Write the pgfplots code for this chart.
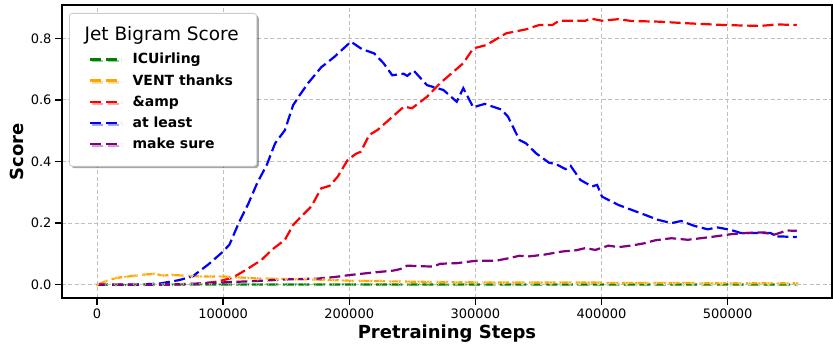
\documentclass[border=0pt]{standalone}
\usepackage{fontspec}
\setmainfont{DejaVu Sans}
\usepackage{pgfplots}
\pgfplotsset{compat=1.18}
\usetikzlibrary{shadows}
\definecolor{mgreen}{RGB}{0,128,0}
\definecolor{morange}{RGB}{255,165,0}
\definecolor{mred}{RGB}{255,0,0}
\definecolor{mblue}{RGB}{0,0,255}
\definecolor{mpurple}{RGB}{128,0,128}
\begin{document}
\begin{tikzpicture}
\begin{axis}[
  scale only axis, width=770bp, height=293bp,
  xmin=-27750, xmax=582750, ymin=-0.043, ymax=0.908,
  axis line style={line width=1.6bp, black},
  xtick={0,100000,200000,300000,400000,500000},
  xticklabels={0,100000,200000,300000,400000,500000},
  ytick={0,0.2,0.4,0.6,0.8},
  yticklabels={0.0,0.2,0.4,0.6,0.8},
  scaled x ticks=false,
  xtick pos=lower, ytick pos=left,
  tick align=outside,
  major tick length=7bp,
  every tick/.style={line width=1.4bp, black},
  ticklabel style={font=\fontsize{13bp}{15bp}\selectfont},
  xlabel={\bfseries Pretraining Steps},
  ylabel={\bfseries Score},
  label style={font=\fontsize{18bp}{20bp}\selectfont},
  grid=major,
  major grid style={dash pattern=on 4bp off 2.5bp, black!25, line width=0.8bp},
  legend cell align=left,
  legend style={at={(0.0091,0.9727)}, anchor=north west,
    draw=black!20, line width=0.8bp, rounded corners=3bp, fill=white,
    inner xsep=18bp, inner ysep=13.5bp, row sep=7.2bp, column sep=10bp,
    font=\fontsize{14bp}{16bp}\selectfont\bfseries,
    nodes={inner sep=0pt, text height=10bp, text depth=4bp, anchor=base west},
    drop shadow={shadow xshift=2bp, shadow yshift=-2bp, opacity=0.35, fill=black}},
  legend image code/.code={\draw[#1, line width=2.4bp, dash pattern=on 11bp off 4.5bp] (3bp,4.5bp) -- (34bp,4.5bp);},
  every axis plot/.append style={line width=2.2bp, dash pattern=on 11bp off 4.5bp},
]
\coordinate (O) at (rel axis cs:0,0);
\addlegendimage{empty legend}
\addlegendentry[text height=14bp, text depth=5.8bp]{\hspace{-48bp}\fontsize{18.5bp}{20bp}\selectfont\mdseries Jet Bigram Score}

\addplot[mgreen, mark=triangle*, mark size=2bp, mark options={solid, rotate=180, fill=mgreen, draw=white, line width=0.3bp}] table {
0 0
7500 0.000
15000 0.000
22500 0.000
30000 0.000
37500 0.001
45000 0.001
52500 0.001
60000 0.001
67500 0.001
75000 0.001
82500 0.001
90000 0.001
97500 0.001
105000 0.001
112500 0.001
120000 0.001
127500 0.001
135000 0.001
142500 0.001
150000 0.001
157500 0.001
165000 0.001
172500 0.001
180000 0.001
187500 0.001
195000 0.001
202500 0.001
210000 0.001
217500 0.001
225000 0.001
232500 0.001
240000 0.001
247500 0.001
255000 0.001
262500 0.001
270000 0.001
277500 0.001
285000 0.001
292500 0.001
300000 0.001
307500 0.001
315000 0.001
322500 0.001
330000 0.001
337500 0.001
345000 0.001
352500 0.001
360000 0.001
367500 0.001
375000 0.001
382500 0.001
390000 0.001
397500 0.001
405000 0.001
412500 0.001
420000 0.001
427500 0.001
435000 0.001
442500 0.001
450000 0.001
457500 0.001
465000 0.001
472500 0.001
480000 0.001
487500 0.001
495000 0.001
502500 0.001
510000 0.001
517500 0.001
525000 0.001
532500 0.001
540000 0.001
547500 0.001
555000 0.001
};
\addlegendentry{ICUirling}

\addplot[morange, mark=triangle*, mark size=2.2bp, mark options={solid, rotate=180, fill=morange, draw=white, line width=0.3bp}] table {
0 0
7500 0.012
15000 0.022
22500 0.026
30000 0.029
37500 0.033
45000 0.036
52500 0.030
60000 0.032
67500 0.030
75000 0.028
82500 0.027
90000 0.027
97500 0.027
105000 0.026
112500 0.024
120000 0.022
127500 0.021
135000 0.020
142500 0.019
150000 0.019
157500 0.018
165000 0.018
172500 0.017
180000 0.016
187500 0.015
195000 0.014
202500 0.013
210000 0.013
217500 0.012
225000 0.012
232500 0.011
240000 0.011
247500 0.010
255000 0.010
262500 0.009
270000 0.009
277500 0.009
285000 0.008
292500 0.008
300000 0.008
307500 0.008
315000 0.007
322500 0.007
330000 0.007
337500 0.007
345000 0.007
352500 0.007
360000 0.007
367500 0.007
375000 0.007
382500 0.007
390000 0.007
397500 0.007
405000 0.006
412500 0.006
420000 0.006
427500 0.006
435000 0.006
442500 0.006
450000 0.006
457500 0.006
465000 0.006
472500 0.006
480000 0.005
487500 0.005
495000 0.005
502500 0.005
510000 0.005
517500 0.005
525000 0.005
532500 0.005
540000 0.005
547500 0.005
555000 0.005
};
\addlegendentry{VENT thanks}

\addplot[mred] table {
0 0
50000 0
80000 0.003
95000 0.010
107100 0.022
118000 0.048
130600 0.081
138500 0.113
149000 0.146
155500 0.194
162000 0.222
169900 0.254
177800 0.313
184400 0.321
190900 0.351
198700 0.405
205300 0.425
209200 0.432
215800 0.486
222300 0.502
232800 0.540
243300 0.578
249800 0.573
261600 0.610
272000 0.654
290400 0.719
298300 0.767
308700 0.778
324400 0.816
340100 0.829
350600 0.843
361100 0.843
366300 0.857
387300 0.857
391200 0.864
400400 0.857
413400 0.862
423900 0.856
444800 0.854
471100 0.848
497300 0.843
526100 0.840
539100 0.845
554800 0.843
};
\addlegendentry{\&amp}

\addplot[mblue] table {
0 0
30000 0
50000 0.004
65000 0.015
75700 0.027
88000 0.065
99200 0.105
105000 0.130
112300 0.200
120200 0.265
127000 0.330
134600 0.389
141200 0.459
149000 0.502
155500 0.583
160800 0.616
167300 0.654
177800 0.706
188300 0.740
201300 0.789
210000 0.765
219700 0.751
227000 0.720
234100 0.680
243000 0.685
246000 0.678
251100 0.695
261600 0.648
274700 0.632
285200 0.594
290400 0.638
298300 0.576
307400 0.587
320500 0.569
325800 0.546
334900 0.470
340100 0.459
348000 0.427
358400 0.396
363700 0.392
371600 0.375
375500 0.386
383300 0.340
392500 0.319
396500 0.324
400400 0.286
413400 0.259
423900 0.243
434400 0.227
444600 0.211
455400 0.200
463200 0.207
473700 0.191
484100 0.180
492000 0.186
502500 0.178
510400 0.168
523400 0.168
533900 0.168
539100 0.157
554800 0.155
};
\addlegendentry{at least}

\addplot[mpurple] table {
0 0
50000 0
75000 0.003
101900 0.008
125000 0.012
154200 0.018
175200 0.020
188300 0.025
201300 0.032
219700 0.040
235000 0.046
240600 0.051
245900 0.062
258000 0.060
266900 0.059
272000 0.068
285200 0.070
300900 0.078
316600 0.078
325000 0.085
334900 0.094
342700 0.092
355000 0.098
369000 0.108
380000 0.112
387300 0.119
395100 0.113
405600 0.127
413400 0.122
425000 0.128
434400 0.135
442300 0.144
455400 0.151
468400 0.146
486800 0.155
502500 0.164
515000 0.168
528700 0.170
536500 0.162
547000 0.176
554800 0.175
};
\addlegendentry{make sure}
\end{axis}
\path (O) ++(-62bp,-49bp) rectangle ++(833bp,347bp);
\end{tikzpicture}
\end{document}
